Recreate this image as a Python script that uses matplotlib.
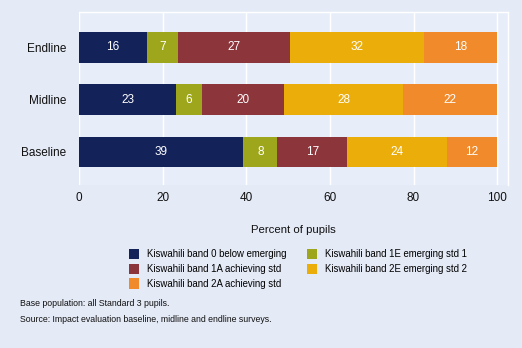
import numpy as np
import matplotlib.pyplot as plt

plt.rcParams['font.family'] = ['Liberation Sans', 'DejaVu Sans']

rounds = ['Baseline', 'Midline', 'Endline']
band_labels = ['Kiswahili band 0 below emerging', 'Kiswahili band 1E emerging std 1',
               'Kiswahili band 1A achieving std', 'Kiswahili band 2E emerging std 2',
               'Kiswahili band 2A achieving std']
# percent of pupils (labels are rounded)
band0 = [39.3, 23.2, 16.3]
band1e = [8.1, 6.3, 7.4]
band1a = [16.8, 19.6, 26.8]
band2e = [23.7, 28.4, 31.9]
band2a = [12.1, 22.4, 17.6]
colors = ['#13235A', '#9EA71C', '#8C353B', '#EBAD0A', '#F08A2A']

bg = '#E4EAF6'
fig = plt.figure(figsize=(5.22, 3.48), dpi=100, facecolor=bg)
ax = fig.add_axes([79 / 522, 1 - 185 / 348, 429 / 522, 173 / 348])
ax.set_facecolor('#E8EEF9')

y = np.arange(len(rounds))
left = np.zeros(len(rounds))
handles = []
for vals, col, lab in zip([band0, band1e, band1a, band2e, band2a], colors, band_labels):
    vals = np.array(vals, dtype=float)
    b = ax.barh(y, vals, left=left, height=0.59, color=col, label=lab, zorder=3)
    handles.append(b)
    for yi, l, v in zip(y, left, vals):
        ax.text(l + v / 2, yi, f'{v:.0f}', ha='center', va='center',
                color='white', fontsize=8.5, zorder=4)
    left += vals

ax.set_xlim(0, 102.6)
ax.set_ylim(-0.63, 2.67)
ax.set_xticks([0, 20, 40, 60, 80, 100])
ax.set_yticks(y)
ax.set_yticklabels(rounds)
ax.tick_params(axis='both', length=0, labelsize=8.5, colors='#111111')
ax.tick_params(axis='x', pad=5)
ax.tick_params(axis='y', pad=9)
ax.grid(axis='x', color='white', linewidth=1, zorder=0)
for s in ax.spines.values():
    s.set_color('white')
    s.set_linewidth(1)
ax.spines['left'].set_visible(False)
ax.spines['bottom'].set_visible(False)
ax.set_xlabel('Percent of pupils', fontsize=8.2, labelpad=15, color='#111111')

order = [0, 2, 4, 1, 3]
fig.legend([handles[i] for i in order], [band_labels[i] for i in order],
           ncol=2, loc='upper left', bbox_to_anchor=(124 / 522, 1 - 244 / 348),
           frameon=False, fontsize=6.9, handlelength=1.05, handleheight=1.3,
           handletextpad=0.85, columnspacing=2.1, labelspacing=0.45, borderpad=0)

fig.text(20 / 522, 1 - 303 / 348, 'Base population: all Standard 3 pupils.',
         fontsize=6.3, va='center', color='#111111')
fig.text(20 / 522, 1 - 320 / 348, 'Source: Impact evaluation baseline, midline and endline surveys.',
         fontsize=6.3, va='center', color='#111111')

fig.savefig('out.png', dpi=100, facecolor=bg)
